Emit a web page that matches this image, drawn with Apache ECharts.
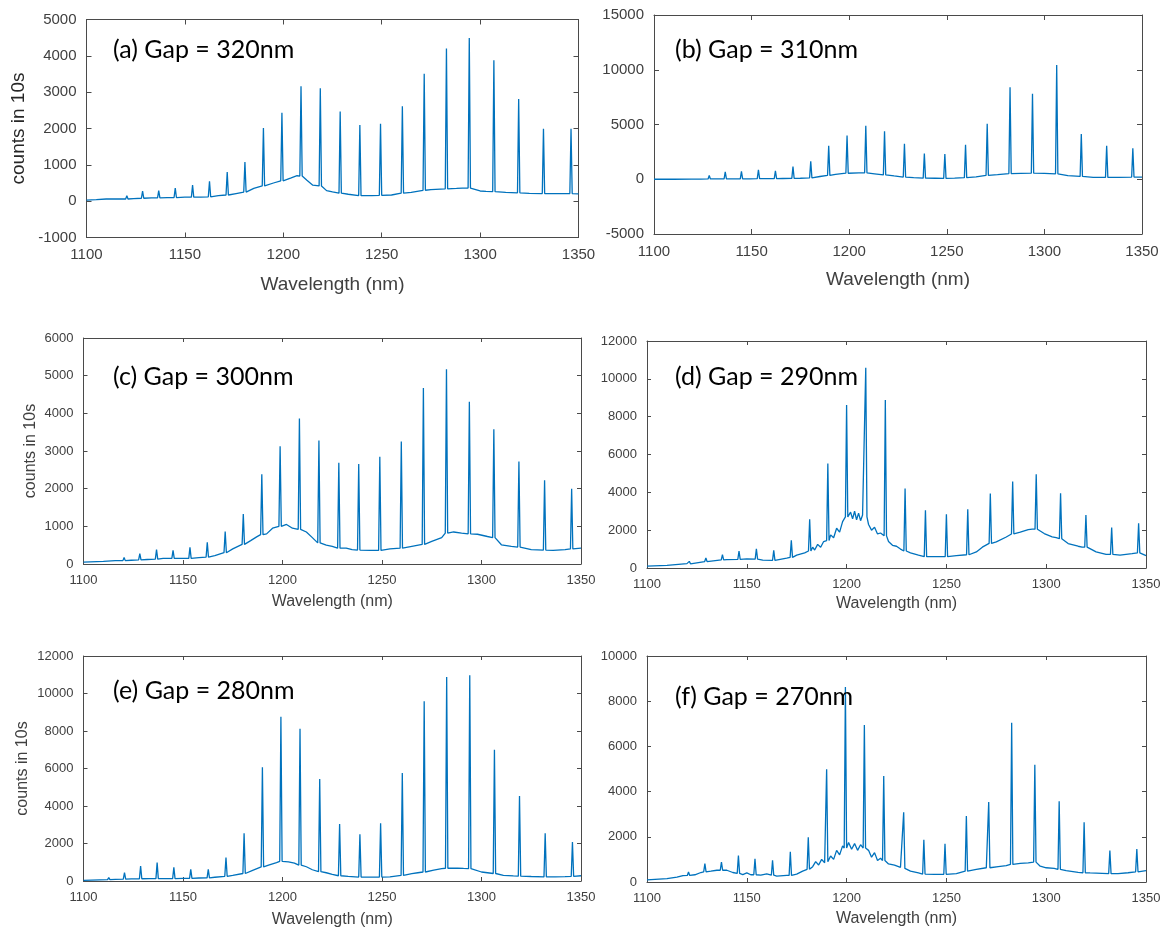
<!DOCTYPE html>
<html>
<head>
<meta charset="utf-8">
<script src="https://cdn.jsdelivr.net/npm/echarts@6/dist/echarts.min.js"></script>
<style>
  html, body { margin: 0; padding: 0; background: #ffffff; }
  #chart { width: 1167px; height: 931px; }
</style>
</head>
<body>
<div id="chart"></div>
<script>
// ---------------- DATA ----------------
const panelLabels = ['(a) Gap = 320nm', '(b) Gap = 310nm', '(c) Gap = 300nm',
                     '(d) Gap = 290nm', '(e) Gap = 280nm', '(f) Gap = 270nm'];
const xName = 'Wavelength (nm)';
const yName = 'counts in 10s';
const xMin = 1100, xMax = 1350, xStep = 50;
const yMin  = [-1000, -5000, 0, 0, 0, 0];
const yMax  = [5000, 15000, 6000, 12000, 12000, 10000];
const yStep = [1000, 5000, 1000, 2000, 2000, 2000];

// peaks: [wavelength, peak counts, counts at the foot of the peak]
const peaksA = [[1120.5,150,60],[1128.5,275,80],[1136.7,290,90],[1145.1,357,100],[1153.9,440,110],
  [1162.5,550,120],[1171.5,800,170],[1180.5,1080,250],[1189.9,2010,420],[1199.3,2430,560],
  [1209.0,3160,690],[1218.8,3110,420],[1228.9,2470,220],[1238.9,2095,150],[1249.4,2130,160],
  [1260.5,2610,220],[1271.6,3510,300],[1282.9,4200,340],[1294.5,4490,360],[1307.0,3880,260],
  [1319.6,2810,230],[1332.2,1995,210],[1346.2,1995,210]];
const baseA = [[1100,30],[1105,40],[1110,60],[1115,60],[1124,70],[1133,90],[1141,100],[1150,110],
  [1158,110],[1167,150],[1176,210],[1180,256],[1185,350],[1190,440],[1195,500],[1204,640],[1207,700],
  [1212,576],[1215,440],[1222,290],[1225,256],[1233,190],[1240,137],[1245,150],[1255,170],[1265,240],
  [1268,270],[1275,320],[1288,350],[1291,360],[1300,280],[1303,270],[1313,240],[1325,215],[1337,210],
  [1342,210],[1350,200]];

const peaksB = [[1119.8,170,20],[1128.3,350,30],[1136.5,680,30],[1144.8,710,40],[1153.5,870,50],
  [1162.2,775,60],[1171.2,1170,80],[1180.3,1630,120],[1189.5,3050,350],[1198.9,4000,550],
  [1208.5,4880,580],[1218.1,4390,400],[1228.3,3240,200],[1238.5,2360,100],[1249.0,2300,80],
  [1259.6,3150,150],[1270.7,5060,350],[1282.4,8400,520],[1293.9,7800,560],[1306.3,10440,500],
  [1318.9,4120,260],[1331.9,3050,170],[1345.3,2840,200]];
const baseB = [[1100,0],[1110,0],[1124,20],[1132,30],[1140,30],[1149,40],[1158,60],[1166,70],
  [1175,90],[1185,250],[1193,450],[1200,560],[1205,580],[1213,500],[1223,300],[1233,150],
  [1244,90],[1254,100],[1265,220],[1276,420],[1288,540],[1300,540],[1312,330],[1325,170],
  [1338,170],[1350,190]];

const peaksC = [[1120.4,175,90],[1128.3,275,110],[1136.7,380,130],[1145.0,360,150],[1153.5,440,150],
  [1162.2,575,180],[1171.2,865,300],[1180.3,1325,520],[1189.6,2380,780],[1198.8,3125,1000],
  [1208.5,3865,920],[1218.3,3280,560],[1228.3,2690,420],[1238.3,2655,370],[1248.9,2850,360],
  [1259.7,3250,420],[1270.8,4670,520],[1282.4,5170,820],[1293.9,4310,800],[1306.2,3580,700],
  [1318.8,2720,450],[1331.7,2220,370],[1345.3,1995,400]];
const baseC = [[1100,50],[1110,70],[1116,90],[1124,100],[1132,120],[1140,150],[1150,150],[1158,170],
  [1166,220],[1175,400],[1184,620],[1187,720],[1192,800],[1195,950],[1198,1000],[1202,1050],
  [1205,950],[1212,850],[1215,700],[1222,500],[1225,470],[1232,420],[1235,380],[1244,360],
  [1254,400],[1265,470],[1275,600],[1280,700],[1286,850],[1290,820],[1298,790],[1303,730],
  [1310,510],[1315,470],[1325,380],[1336,360],[1342,380],[1350,420]];

const peaksD = [[1121.2,350,220],[1129.5,530,340],[1137.8,705,430],[1146.1,900,460],[1154.8,1020,470],
  [1163.5,935,400],[1172.3,1465,560],[1181.5,2575,900],[1190.6,5520,1450],[1200.0,8610,2700],
  [1209.6,10590,2700],[1219.4,8875,1700],[1229.3,4200,900],[1239.5,3050,600],[1250.0,2840,600],
  [1260.7,3105,700],[1272.0,3935,1300],[1283.2,4570,1800],[1295.0,4960,2050],[1307.2,3950,1550],
  [1319.9,2805,1100],[1332.8,2135,720],[1346.3,2365,800]];
const baseD = [[1100,100],[1110,140],[1120,230],[1130,350],[1140,440],[1150,480],[1158,420],[1165,400],
  [1170,520],[1175,680],[1179,800],[1183,1100],[1184,950],[1185.5,1250],[1187,1100],[1188.5,1400],
  [1192,1750],[1193.5,1600],[1195,2100],[1196.5,1900],[1198,2450],[1202,2950],[1203,2600],[1204,3000],
  [1205,2550],[1206,2900],[1207,2500],[1208,2800],[1211,2300],[1212.5,2000],[1214,2150],[1215.5,1800],
  [1217,1850],[1221,1400],[1223,1200],[1225,1150],[1227,1000],[1232,800],[1236,680],[1244,600],
  [1255,650],[1265,850],[1268,1100],[1275,1380],[1280,1640],[1287,1900],[1291,2030],[1293,2050],
  [1299,1820],[1303,1650],[1305,1600],[1311,1290],[1316,1150],[1318,1100],[1325,850],[1330,720],
  [1337,680],[1343,760],[1350,650]];

const peaksE = [[1112.7,180,70],[1120.6,445,100],[1128.7,800,120],[1137.0,980,125],[1145.4,730,130],
  [1153.9,620,140],[1162.7,620,170],[1171.6,1245,250],[1180.7,2540,400],[1189.9,6060,750],
  [1199.2,8765,1050],[1208.8,8125,850],[1218.7,5440,500],[1228.7,3040,280],[1238.9,2490,210],
  [1249.3,3075,210],[1260.2,5760,300],[1271.2,9580,480],[1282.5,10880,680],[1294.1,10970,660],
  [1306.5,7005,400],[1319.1,4530,260],[1332.0,2540,220],[1345.7,2080,250]];
const baseE = [[1100,35],[1108,60],[1116,90],[1124,110],[1133,125],[1141,125],[1150,140],[1158,160],
  [1166,200],[1175,300],[1180,390],[1185,570],[1193,850],[1197,980],[1203,1020],[1206,950],
  [1212,760],[1215,600],[1222,440],[1225,355],[1233,250],[1244,210],[1254,220],[1265,390],
  [1268,440],[1276,580],[1280,660],[1288,690],[1291,670],[1300,480],[1303,440],[1311,300],
  [1316,270],[1325,240],[1337,220],[1342,230],[1350,280]];

const peaksF = [[1120.8,440,290],[1129.0,810,450],[1137.3,880,520],[1145.8,1175,380],[1154.1,1030,320],
  [1162.9,955,300],[1171.8,1335,290],[1180.8,1980,560],[1190.0,4990,900],[1199.4,8630,1500],
  [1208.9,6945,1500],[1218.6,4685,950],[1228.6,3085,600],[1238.7,1865,350],[1249.3,1690,340],
  [1260.0,2920,480],[1271.2,3540,630],[1282.7,7050,780],[1294.3,5185,880],[1306.5,3570,560],
  [1319.0,2645,410],[1331.9,1395,370],[1345.4,1455,450]];
const baseF = [[1100,90],[1110,150],[1115,220],[1118,280],[1124,320],[1127,420],[1132,480],[1135,520],
  [1140,520],[1143,420],[1148,330],[1150,400],[1152,320],[1157,300],[1160,360],[1165,260],[1170,290],
  [1175,350],[1178,480],[1183,680],[1184.5,900],[1186,750],[1187.5,1000],[1189,850],[1192,1150],
  [1193.5,1000],[1195,1400],[1196.5,1200],[1198,1600],[1201,1750],[1202.5,1450],[1204,1700],
  [1205.5,1400],[1207,1650],[1211,1400],[1212.5,1100],[1214,1300],[1215.5,950],[1217,1050],
  [1221,800],[1224,750],[1227,650],[1232,480],[1236,400],[1244,340],[1255,370],[1265,560],
  [1270,630],[1276,680],[1280,720],[1287,820],[1291,850],[1297,700],[1300,630],[1304,600],
  [1310,500],[1316,430],[1322,400],[1328,380],[1336,370],[1341,410],[1350,500]];

const allPeaks = [peaksA, peaksB, peaksC, peaksD, peaksE, peaksF];
const allBases = [baseA, baseB, baseC, baseD, baseE, baseF];

// ---------------- LAYOUT / STYLE ----------------
const HALF_WIDTH = 0.6; // drawn half-width of a spectral line (nm)
const layout = [
  {left:86.5, top:19.5, width:492,   height:218, tick:15, name:19, tickLen:5, xGap:38,  yGap:58,  yNameColor:'#262626',
   label:{x:113, y:52}},
  {left:654,  top:15,   width:488,   height:219, tick:15, name:19, tickLen:5, xGap:36.5, yGap:null,
   label:{x:675, y:52}},
  {left:83.5, top:338,  width:497.5, height:226, tick:13, name:16, tickLen:4, xGap:30,  yGap:44.5, yNameColor:'#404040',
   label:{x:113, y:379}},
  {left:647,  top:341,  width:499,   height:227, tick:13, name:16, tickLen:4, xGap:28,  yGap:null,
   label:{x:675, y:379}},
  {left:83.5, top:656,  width:497.5, height:225, tick:13, name:16, tickLen:4, xGap:31,  yGap:53,  yNameColor:'#404040',
   label:{x:113, y:693}},
  {left:647,  top:656,  width:499,   height:226, tick:13, name:16, tickLen:4, xGap:29,  yGap:null,
   label:{x:675, y:699}}
];
const FRAME = '#4a4a4a';
const TEXT = '#404040';
const LINE = '#0072BD';
const FONT = "'Liberation Sans', Arial, sans-serif";
const plain = v => String(v);

function buildSpectrum(base, peaks) {
  const pts = base.filter(p => !peaks.some(k => Math.abs(k[0] - p[0]) < 1.0)).map(p => [p[0], p[1]]);
  peaks.forEach(k => {
    pts.push([k[0] - HALF_WIDTH, k[2]], [k[0], k[1]], [k[0] + HALF_WIDTH, k[2]]);
  });
  pts.sort((a, b) => a[0] - b[0]);
  return pts;
}

const grids = [], xAxes = [], yAxes = [], series = [], texts = [];
layout.forEach((L, i) => {
  grids.push({left: L.left, top: L.top, width: L.width, height: L.height, containLabel: false, show: false});
  const lineStyle = {lineStyle: {color: FRAME, width: 1}};
  const tickStyle = {show: true, inside: true, length: L.tickLen, lineStyle: {color: FRAME, width: 1}};
  xAxes.push({
    type: 'value', gridIndex: i, position: 'bottom', min: xMin, max: xMax, interval: xStep,
    axisLine: Object.assign({show: true, onZero: false}, lineStyle),
    axisTick: tickStyle, splitLine: {show: false},
    axisLabel: {show: true, color: TEXT, fontSize: L.tick, fontFamily: FONT, margin: 10, hideOverlap: false, formatter: plain},
    name: xName, nameLocation: 'middle', nameGap: L.xGap,
    nameTextStyle: {color: TEXT, fontSize: L.name, fontFamily: FONT}
  });
  xAxes.push({
    type: 'value', gridIndex: i, position: 'top', min: xMin, max: xMax, interval: xStep,
    axisLine: Object.assign({show: true, onZero: false}, lineStyle),
    axisTick: tickStyle, axisLabel: {show: false}, splitLine: {show: false}
  });
  const yLeft = {
    type: 'value', gridIndex: i, position: 'left', min: yMin[i], max: yMax[i], interval: yStep[i],
    axisLine: Object.assign({show: true, onZero: false}, lineStyle),
    axisTick: tickStyle, splitLine: {show: false},
    axisLabel: {show: true, color: TEXT, fontSize: L.tick, fontFamily: FONT, margin: 10, hideOverlap: false, formatter: plain}
  };
  if (L.yGap !== null) {
    Object.assign(yLeft, {name: yName, nameLocation: 'middle', nameGap: L.yGap, nameRotate: 90,
      nameTextStyle: {color: L.yNameColor, fontSize: L.name, fontFamily: FONT}});
  }
  yAxes.push(yLeft);
  yAxes.push({
    type: 'value', gridIndex: i, position: 'right', min: yMin[i], max: yMax[i], interval: yStep[i],
    axisLine: Object.assign({show: true, onZero: false}, lineStyle),
    axisTick: tickStyle, axisLabel: {show: false}, splitLine: {show: false}
  });
  series.push({
    type: 'line', xAxisIndex: 2 * i, yAxisIndex: 2 * i, data: buildSpectrum(allBases[i], allPeaks[i]),
    showSymbol: false, symbol: 'none', clip: true, silent: true,
    lineStyle: {color: LINE, width: 1.3}
  });
  texts.push({
    type: 'text', left: L.label.x, top: L.label.y - 15, z: 100,
    style: {text: panelLabels[i], fill: '#000', fontSize: 25, fontFamily: "Lato, 'Open Sans', sans-serif"}
  });
});

const chart = echarts.init(document.getElementById('chart'), null, {renderer: 'canvas'});
chart.setOption({
  animation: false,
  backgroundColor: '#ffffff',
  grid: grids,
  xAxis: xAxes,
  yAxis: yAxes,
  series: series,
  graphic: texts
});
</script>
</body>
</html>
